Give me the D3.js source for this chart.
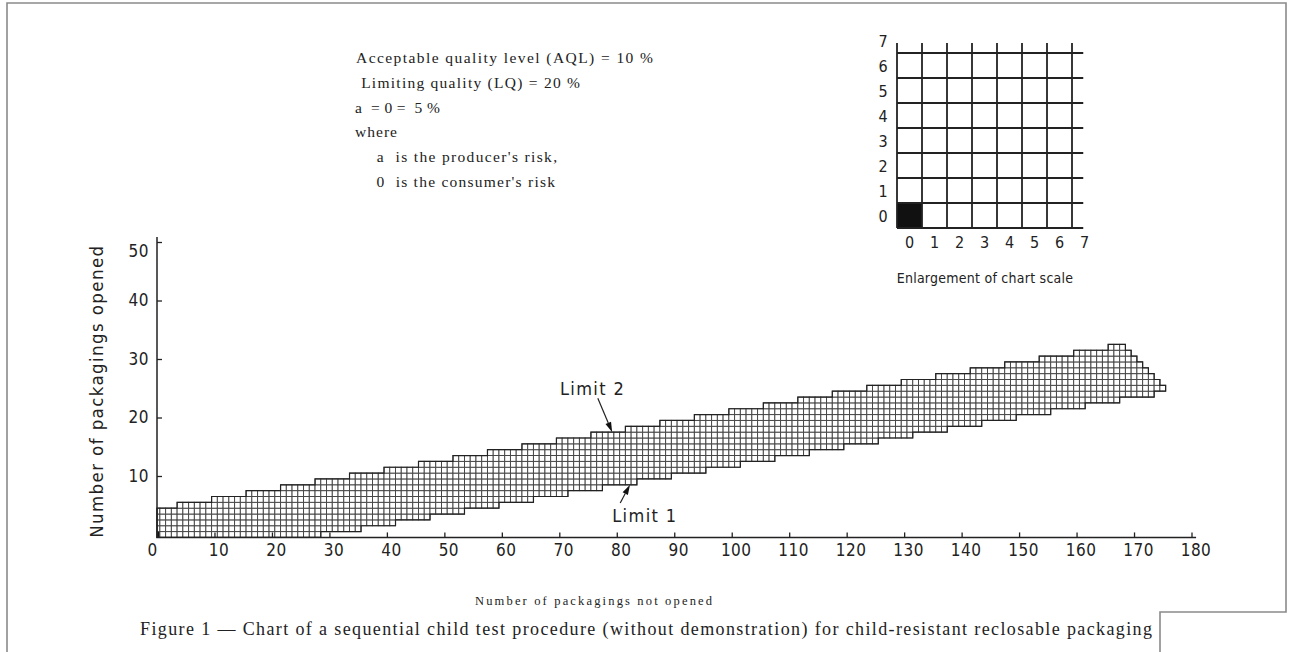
<!DOCTYPE html>
<html>
<head>
<meta charset="utf-8">
<script src="https://cdn.jsdelivr.net/npm/d3@7"></script>
<style>
  html, body { margin: 0; padding: 0; background: #fff; }
  svg { display: block; }
  .din { font-family: "DejaVu Sans Condensed", "Liberation Sans Narrow", "DejaVu Sans", sans-serif; font-stretch: condensed; fill: #222; }
  .serif { font-family: "Liberation Serif", "Times New Roman", serif; fill: #222; white-space: pre; }
</style>
</head>
<body>
<svg id="svg" width="1292" height="652"></svg>
<script>
/*global d3*/
const svg = d3.select("#svg");

// --- values ---
// Limit 2: top cell of the band, from the given x (packagings not opened) onward
const upperFrom = [0, 4, 10, 16, 22, 28, 34, 40, 46, 52, 58, 64, 70, 76, 82, 88, 94, 100, 106, 112, 118, 124, 130, 136, 142, 148, 154, 160, 166, 169, 170, 171, 172, 173, 174, 175];
const upperTop  = [4, 5, 6, 7, 8, 9, 10, 11, 12, 13, 14, 15, 16, 17, 18, 19, 20, 21, 22, 23, 24, 25, 26, 27, 28, 29, 30, 31, 32, 31, 30, 29, 28, 27, 26, 25];
// Limit 1: bottom cell of the band
const lowerFrom   = [0, 29, 36, 42, 48, 54, 60, 66, 72, 78, 84, 90, 96, 102, 108, 114, 120, 126, 132, 138, 144, 150, 156, 162, 168, 174];
const lowerBottom = [0, 1, 2, 3, 4, 5, 6, 7, 8, 9, 10, 11, 12, 13, 14, 15, 16, 17, 18, 19, 20, 21, 22, 23, 24, 25];
const lastColumn = 175;

const xTicks = [0, 10, 20, 30, 40, 50, 60, 70, 80, 90, 100, 110, 120, 130, 140, 150, 160, 170, 180];
const yTicks = [10, 20, 30, 40, 50];
const zoomTicks = [0, 1, 2, 3, 4, 5, 6, 7];

const infoLines = [
  "Acceptable quality level (AQL) = 10 %",
  " Limiting quality (LQ) = 20 %",
  "a  = 0 =  5 %",
  "where",
  "    a  is the producer's risk,",
  "    0  is the consumer's risk"
];
const xTitle = "Number of packagings not opened";
const yTitle = "Number of packagings opened";
const zoomTitle = "Enlargement of chart scale";
const caption = "Figure 1 \u2014 Chart of a sequential child test procedure (without demonstration) for child-resistant reclosable packaging";

// --- layout ---
const x = d3.scaleLinear().domain([0, 180]).range([157, 1191.5]);
const y = d3.scaleLinear().domain([0, 50]).range([534.5, 242]);

// frame
svg.append("path")
  .attr("d", "M7,652V3H1286V612H1160V652")
  .attr("fill", "none")
  .attr("stroke", "#8a8a8a")
  .attr("stroke-width", 1.6);

// band cells
const columns = d3.range(0, lastColumn + 1).map(i => ({
  i,
  up: upperTop[d3.bisectRight(upperFrom, i) - 1],
  lo: lowerBottom[d3.bisectRight(lowerFrom, i) - 1]
}));
const cells = columns.flatMap(c => d3.range(c.lo, c.up + 1).map(j => ({ i: c.i, j })));
const left = i => x(Math.max(i - 0.5, 0));

const band = svg.append("g");
band.selectAll("rect").data(cells).enter().append("rect")
  .attr("x", d => left(d.i))
  .attr("width", d => x(d.i + 0.5) - left(d.i))
  .attr("y", d => y(d.j + 0.5))
  .attr("height", d => y(d.j - 0.5) - y(d.j + 0.5))
  .attr("fill", d => (d.i === 0 && d.j === 0) ? "#111" : "#fff")
  .attr("stroke", "#444")
  .attr("stroke-width", 0.95);

const outline = [];
columns.forEach(c => { outline.push([Math.max(c.i - 0.5, 0), c.up + 0.5], [c.i + 0.5, c.up + 0.5]); });
columns.slice().reverse().forEach(c => { outline.push([c.i + 0.5, c.lo - 0.5], [Math.max(c.i - 0.5, 0), c.lo - 0.5]); });
band.append("path")
  .attr("d", d3.line().x(p => x(p[0])).y(p => y(p[1]))(outline) + "Z")
  .attr("fill", "none")
  .attr("stroke", "#222")
  .attr("stroke-width", 1.2);

// axes
const xAxisG = svg.append("g")
  .attr("class", "din")
  .attr("transform", `translate(0,${y(-0.5)})`)
  .call(d3.axisBottom(x).tickValues(xTicks).tickSizeInner(-5).tickSizeOuter(0).tickPadding(7));
xAxisG.select(".domain").remove();
xAxisG.selectAll(".tick line").attr("stroke", "#222").attr("stroke-width", 1.3);
xAxisG.selectAll(".tick text")
  .attr("font-size", 17).attr("letter-spacing", 0.5).attr("fill", "#222")
  .attr("dx", d => d === 0 ? -5 : 4);

const yAxisG = svg.append("g")
  .attr("class", "din")
  .attr("transform", `translate(${x(0)},0)`)
  .call(d3.axisLeft(y).tickValues(yTicks).tickSizeInner(-5).tickSizeOuter(0).tickPadding(8));
yAxisG.select(".domain").remove();
yAxisG.selectAll(".tick line").attr("stroke", "#222").attr("stroke-width", 1.3);
yAxisG.selectAll(".tick text")
  .attr("font-size", 17).attr("letter-spacing", 0.5).attr("fill", "#222")
  .attr("dy", d => d === 50 ? "0.85em" : "0.32em");

svg.append("path")
  .attr("d", `M${x(0)},${y(50.85)}V${y(-0.5)}H${x(180.8)}`)
  .attr("fill", "none")
  .attr("stroke", "#222")
  .attr("stroke-width", 1.5);

svg.append("text").attr("class", "din")
  .attr("transform", `translate(103,${y(24.5)}) rotate(-90)`)
  .attr("text-anchor", "middle")
  .attr("font-size", 18.5).attr("letter-spacing", 1.4)
  .text(yTitle);

// limit annotations
const annotations = [
  { text: "Limit 2", at: [70.1, 23.8], from: [76.7, 23.3], tip: [79.2, 17.5] },
  { text: "Limit 1", at: [79.2, 2.1], from: [80.6, 5.4], tip: [82.3, 8.5] }
];
const ann = svg.append("g");
annotations.forEach(a => {
  ann.append("text").attr("class", "din")
    .attr("x", x(a.at[0])).attr("y", y(a.at[1]))
    .attr("font-size", 18).attr("letter-spacing", 1.4)
    .text(a.text);
  const x1 = x(a.from[0]), y1 = y(a.from[1]), x2 = x(a.tip[0]), y2 = y(a.tip[1]);
  const ang = Math.atan2(y2 - y1, x2 - x1);
  const L = 10, W = 3;
  const bx = x2 - L * Math.cos(ang), by = y2 - L * Math.sin(ang);
  ann.append("line")
    .attr("x1", x1).attr("y1", y1).attr("x2", bx).attr("y2", by)
    .attr("stroke", "#222").attr("stroke-width", 1.2);
  ann.append("path")
    .attr("d", `M${x2},${y2}L${bx + W * Math.sin(ang)},${by - W * Math.cos(ang)}L${bx - W * Math.sin(ang)},${by + W * Math.cos(ang)}Z`)
    .attr("fill", "#111");
});

// enlargement of chart scale
const ex = d3.scaleLinear().domain([0, 7]).range([897, 1072]);
const ey = d3.scaleLinear().domain([0, 7]).range([228, 53]);
const zoomG = svg.append("g");
zoomG.append("rect")
  .attr("x", ex(0)).attr("y", ey(1))
  .attr("width", ex(1) - ex(0)).attr("height", ey(0) - ey(1))
  .attr("fill", "#111");
zoomG.selectAll(".v").data(zoomTicks).enter().append("line")
  .attr("x1", d => ex(d)).attr("x2", d => ex(d))
  .attr("y1", ey(0)).attr("y2", ey(7.4))
  .attr("stroke", "#222").attr("stroke-width", 1.8);
zoomG.selectAll(".h").data(zoomTicks).enter().append("line")
  .attr("y1", d => ey(d)).attr("y2", d => ey(d))
  .attr("x1", ex(0)).attr("x2", ex(7.45))
  .attr("stroke", "#222").attr("stroke-width", 1.8);
zoomG.selectAll(".xl").data(zoomTicks).enter().append("text")
  .attr("class", "din")
  .attr("x", d => ex(d + 0.5)).attr("y", 248)
  .attr("text-anchor", "middle").attr("font-size", 16)
  .text(d => d);
zoomG.selectAll(".yl").data(zoomTicks).enter().append("text")
  .attr("class", "din")
  .attr("x", 883).attr("y", d => ey(d + 0.5) + 6)
  .attr("text-anchor", "middle").attr("font-size", 16)
  .text(d => d);
zoomG.append("text").attr("class", "din")
  .attr("x", 985).attr("y", 283)
  .attr("text-anchor", "middle").attr("font-size", 14).attr("letter-spacing", 0.25)
  .text(zoomTitle);

// parameter text
const infoX = [356, 356, 355, 355, 356, 356];
const infoW = [297, 224, 85, 42, 201, 199];
svg.selectAll(".info").data(infoLines).enter().append("text")
  .attr("class", "serif")
  .attr("x", (d, i) => infoX[i])
  .attr("y", (d, i) => 63 + i * 24.8)
  .attr("font-size", 15.5)
  .attr("textLength", (d, i) => infoW[i])
  .attr("lengthAdjust", "spacing")
  .text(d => d);

// axis title and caption
svg.append("text").attr("class", "serif")
  .attr("x", 475).attr("y", 605)
  .attr("font-size", 12.5)
  .attr("textLength", 237).attr("lengthAdjust", "spacing")
  .text(xTitle);

svg.append("text").attr("class", "serif")
  .attr("x", 140).attr("y", 635)
  .attr("font-size", 18)
  .attr("textLength", 1012).attr("lengthAdjust", "spacing")
  .text(caption);
</script>
</body>
</html>
